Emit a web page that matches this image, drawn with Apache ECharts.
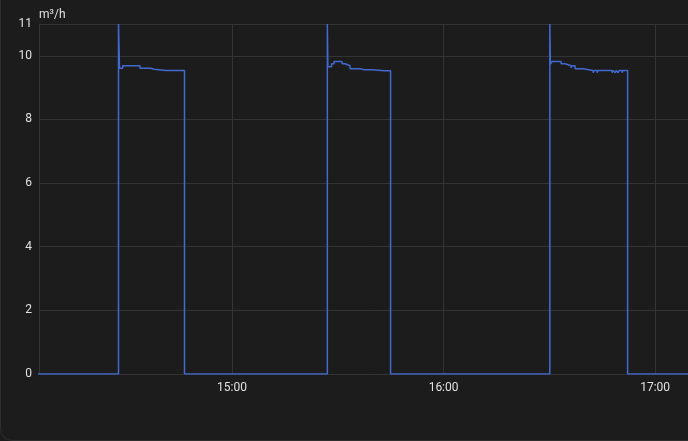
<!DOCTYPE html>
<html>
<head>
<meta charset="utf-8">
<script src="https://cdn.jsdelivr.net/npm/echarts@6/dist/echarts.min.js"></script>
<style>
  html, body { margin: 0; padding: 0; background: #1c1c1c; overflow: hidden; width: 688px; height: 441px; }
  #card { position: absolute; left: 0; top: -20px; width: 740px; height: 459px; border: 1px solid #2e2e2e; border-radius: 12px; background: #1c1c1c; }
  #chart { position: absolute; left: 0; top: 0; width: 730px; height: 441px; }
</style>
</head>
<body>
<div id="card"></div>
<div id="chart"></div>
<script>
// Day of the reading
const day = '2024-01-01';
// Sample times (value holds until next sample)
const sampleTimes = [
  '14:00:00',
  '14:27:48', '14:28:05', '14:28:59', '14:29:39', '14:29:51', '14:30:30', '14:30:42',
  '14:33:54', '14:37:01', '14:37:18', '14:37:35', '14:37:52', '14:38:26',
  '14:41:17', '14:41:34', '14:42:25', '14:42:42', '14:43:33', '14:43:50', '14:46:31',
  '15:27:02', '15:27:11', '15:28:14', '15:28:56', '15:31:13', '15:32:04', '15:33:29',
  '15:34:54', '15:35:28', '15:35:45', '15:36:19', '15:36:36', '15:37:27', '15:38:01',
  '15:40:00', '15:43:07', '15:43:24', '15:44:58',
  '16:30:08', '16:30:18', '16:30:47', '16:31:55', '16:32:12', '16:33:20', '16:34:28',
  '16:36:10', '16:36:27', '16:37:18', '16:39:35', '16:42:25', '16:42:42', '16:43:33', '16:43:50',
  '16:47:48', '16:48:05', '16:48:39', '16:48:56', '16:49:30', '16:49:47', '16:50:38', '16:50:55',
  '16:52:12', '17:30:00'
];
// Flow values in m³/h
const flowValues = [
  0,
  11, 9.61, 9.69, 9.66, 9.69, 9.66, 9.69,
  9.61, 9.58, 9.61, 9.58, 9.61, 9.54,
  9.48, 9.54, 9.48, 9.54, 9.48, 9.54, 0,
  11, 9.66, 9.75, 9.82, 9.75, 9.69, 9.59,
  9.56, 9.59, 9.56, 9.59, 9.56, 9.59, 9.56,
  9.53, 9.50, 9.53, 0,
  11, 9.74, 9.82, 9.78, 9.82, 9.75, 9.69,
  9.62, 9.69, 9.59, 9.54, 9.47, 9.54, 9.47, 9.54,
  9.47, 9.54, 9.47, 9.54, 9.47, 9.54, 9.47, 9.54,
  0, 0
];
const seriesName = 'Flow';
const unit = 'm³/h';
const xStart = '14:05:15';
const xEnd = '17:15:00';
const yMax = 11;
const yStep = 2;

const ts = s => new Date(day + 'T' + s).getTime();
const data = sampleTimes.map((t, i) => [ts(t), flowValues[i]]);

const chart = echarts.init(document.getElementById('chart'), null, { renderer: 'canvas' });
const textColor = '#e1e1e1';
const gridColor = '#333333';
chart.setOption({
  backgroundColor: 'transparent',
  animation: false,
  textStyle: { fontFamily: 'Roboto, sans-serif' },
  grid: { left: 39, top: 24, height: 350, width: 669 },
  legend: {
    left: 685, top: 413, itemWidth: 14, itemHeight: 10, icon: 'rect',
    textStyle: { color: textColor, fontSize: 12 },
    data: [seriesName]
  },
  xAxis: {
    type: 'time',
    min: ts(xStart), max: ts(xEnd),
    minInterval: 3600000, maxInterval: 3600000,
    axisLine: { show: true, lineStyle: { color: gridColor } },
    axisTick: { show: false },
    splitLine: { show: true, lineStyle: { color: gridColor, width: 1 } },
    axisLabel: {
      color: textColor, fontSize: 12, margin: 8, showMinLabel: false,
      formatter: v => { const d = new Date(v); return String(d.getHours()).padStart(2, '0') + ':' + String(d.getMinutes()).padStart(2, '0'); }
    }
  },
  yAxis: {
    type: 'value', min: 0, max: yMax, interval: yStep,
    name: unit, nameLocation: 'end', nameGap: 3,
    nameTextStyle: { color: textColor, fontSize: 12, align: 'left', padding: [0, 0, 0, 0] },
    axisLine: { show: true, lineStyle: { color: gridColor } },
    axisTick: { show: false },
    splitLine: { show: true, lineStyle: { color: gridColor, width: 1 } },
    axisLabel: { color: textColor, fontSize: 12, margin: 7 }
  },
  series: [{
    name: seriesName,
    type: 'line',
    step: 'end',
    showSymbol: false,
    symbol: 'none',
    color: '#4269d0',
    lineStyle: { width: 1.5, color: '#4269d0' },
    data: data
  }]
});
</script>
</body>
</html>
